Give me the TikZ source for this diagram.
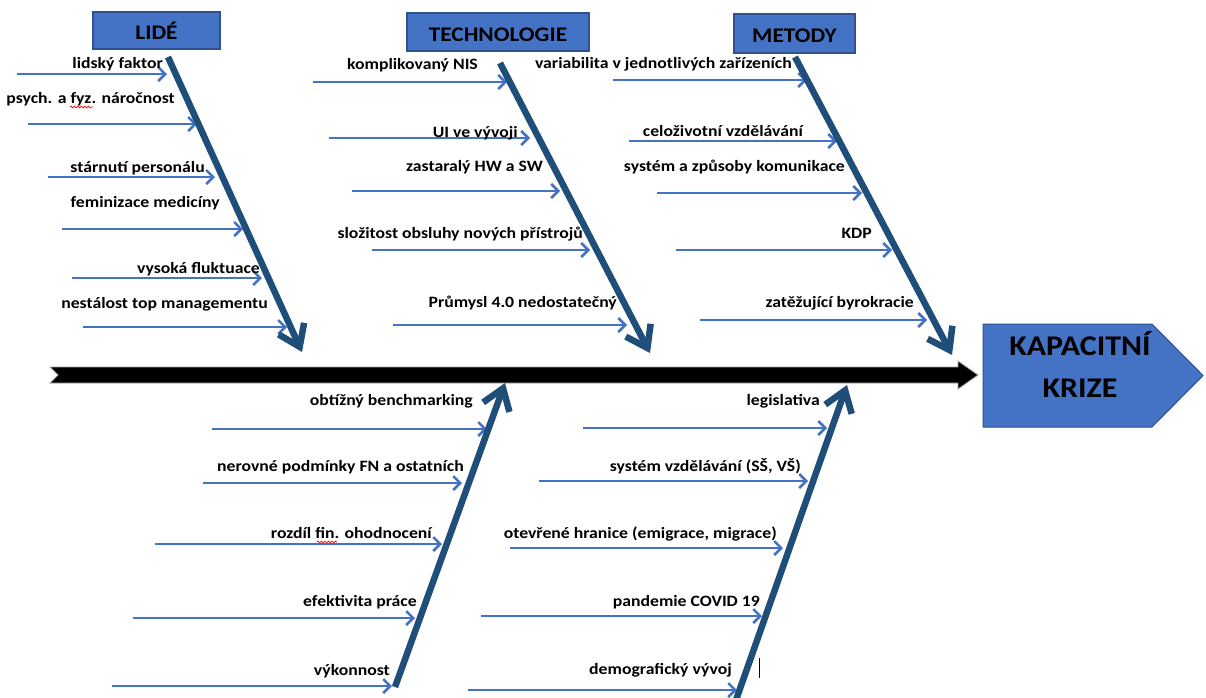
\documentclass[tikz,border=0pt]{standalone}
\usepackage{fontspec}
\newfontfamily\lblfont[FakeStretch=1.12]{Carlito}
\usetikzlibrary{arrows.meta,decorations.pathmorphing}
\definecolor{boxblue}{HTML}{4472C4}
\definecolor{boxedge}{HTML}{2F528F}
\definecolor{bonecol}{HTML}{1F4E79}
\definecolor{arrblue}{HTML}{4472C4}
\newcommand{\cattxt}[1]{\raisebox{-9.3pt}[0pt][0pt]{#1}}
\begin{document}
\begin{tikzpicture}[x=1pt,y=-1pt,
  catbox/.style={draw=boxedge, line width=1.2pt, fill=boxblue, inner sep=0pt,
    font=\lblfont\bfseries\fontsize{20.8}{24}\selectfont, text=black},
  lbl/.style={anchor=base east, inner sep=0pt, text=black,
    font=\lblfont\bfseries\fontsize{15.8}{18}\selectfont},
  headtxt/.style={anchor=base, inner sep=0pt, text=black,
    font=\lblfont\bfseries\fontsize{28.5}{34}\selectfont},
  twig/.style={draw=arrblue, line width=2.5pt, -{Straight Barb[length=7pt,width=14pt]}},
  bone/.style={draw=bonecol, line width=6.5pt, -{Straight Barb[length=20pt,width=28pt]}},
  squig/.style={draw=red, line width=0.7pt, decorate, decoration={snake, amplitude=0.9pt, segment length=3.5pt}}]
\useasboundingbox[fill=white] (0,0) rectangle (1206,697);

% category boxes
\node[catbox, minimum width=127pt, minimum height=37pt] (lide) at (156.5,30.5) {\cattxt{LIDÉ}};
\node[catbox, minimum width=182pt, minimum height=38pt] (tech) at (498,32) {\cattxt{TECHNOLOGIE}};
\node[catbox, minimum width=121pt, minimum height=39pt] (met) at (794.5,33.5) {\cattxt{METODY}};

% twigs (small arrows)
\foreach \n/\xa/\xb/\yy in {
  L1/17/167/74, L2/28/197/124, L3/48/215/177, L4/62/243/229, L5/72/262/278, L6/83/287/327,
  T1/313/507/82, T2/329/530/138, T3/352/560/191, T4/372/590/250, T5/393/627/325,
  M1/613/807/80, M2/629/837/141, M3/657/862/193, M4/676/892/250, M5/700/927/320,
  B1/212/487/429, B2/203/462/483, B3/155/442/544, B4/133/415/618, B5/112/392/686,
  R1/583/827/428, R2/539/808/481, R3/510/783/548, R4/481/762/616, R5/468/737/690}
{
  \coordinate (\n s) at (\xa,\yy);
  \coordinate (\n e) at (\xb,\yy);
  \draw[twig] (\n s) -- (\n e);
}

% spine
\fill[black, draw=gray!70, line width=0.8pt] (50,367) -- (958,367) -- (958,361) -- (978,375) -- (958,389) -- (958,383) -- (50,383) -- (58,375) -- cycle;

% bones
\coordinate (bl1) at (168,57);  \coordinate (bl2) at (302,352);
\coordinate (bt1) at (500,63);  \coordinate (bt2) at (650,353);
\coordinate (bm1) at (795,57);  \coordinate (bm2) at (952,355);
\coordinate (bb1) at (395,687); \coordinate (bb2) at (505,383);
\coordinate (br1) at (736,700); \coordinate (br2) at (847,385);
\draw[bone] (bl1) -- (bl2);
\draw[bone] (bt1) -- (bt2);
\draw[bone] (bm1) -- (bm2);
\draw[bone] (bb1) -- (bb2);
\draw[bone] (br1) -- (br2);

% labels
\foreach \n/\xx/\yy/\t in {
  L1/163/68/{lidský faktor},
  L2/175/103/{psych. a fyz. náročnost},
  L3/205/172/{stárnutí personálu},
  L4/220/207/{feminizace medicíny},
  L5/260/273/{vysoká fluktuace},
  L6/268/308/{nestálost top managementu},
  T1/478/69/{komplikovaný NIS},
  T2/518/137/{UI ve vývoji},
  T3/543/171/{zastaralý HW a SW},
  T4/583/238/{složitost obsluhy nových přístrojů},
  T5/617/307/{Průmysl 4.0 nedostatečný},
  M1/792/68/{variabilita v jednotlivých zařízeních},
  M2/803/136/{celoživotní vzdělávání},
  M3/845/171/{systém a způsoby komunikace},
  M4/872/238/{KDP},
  M5/914/307/{zatěžující byrokracie},
  B1/473/405/{obtížný benchmarking},
  B2/464/471/{nerovné podmínky FN a ostatních},
  B3/432/538/{rozdíl fin. ohodnocení},
  B4/417/606/{efektivita práce},
  B5/390/675/{výkonnost},
  R1/820/405/{legislativa},
  R2/801/471/{systém vzdělávání (SŠ, VŠ)},
  R3/777/538/{otevřené hranice (emigrace, migrace)},
  R4/760/606/{pandemie COVID 19},
  R5/732/674/{demografický vývoj}}
{
  \node[lbl] (\n t) at (\xx,\yy) {\t};
}

% spell-check marks and cursor
\draw[squig] (70,107) -- (93,107);
\draw[squig] (317,542) -- (337,542);
\draw[black, line width=0.8pt] (759,658) -- (759,678);

% head
\draw[draw=boxedge, fill=boxblue, line width=1pt] (983,324) -- (1152,324) -- (1203,375.5) -- (1152,427) -- (983,427) -- cycle;
\node[headtxt] (head1) at (1080,355) {KAPACITNÍ};
\node[headtxt] (head2) at (1080,397) {KRIZE};
\end{tikzpicture}
\end{document}
